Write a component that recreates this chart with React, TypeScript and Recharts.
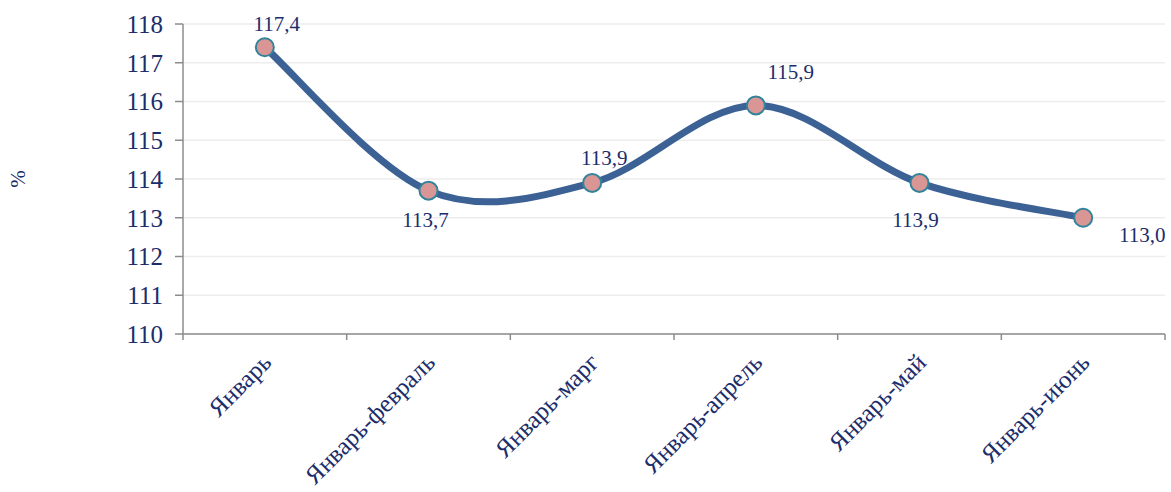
import { LineChart, Line, XAxis, YAxis, CartesianGrid, LabelList } from 'recharts';

const months = ['Январь', 'Январь-февраль', 'Январь-марг', 'Январь-апрель', 'Январь-май', 'Январь-июнь'];
const values = [117.4, 113.7, 113.9, 115.9, 113.9, 113.0];
const yTicks = [110, 111, 112, 113, 114, 115, 116, 117, 118];

const data = months.map((m, i) => ({ month: m, pos: i + 0.5, value: values[i] }));

const TEXT = '#1b2d6b';
const FONT = '"Liberation Serif", "Times New Roman", serif';
const AXIS = '#8c8c8c';

// label placement relative to each point, like the original
const LABEL_OFFSETS = [
  [12, -16], [-3, 36], [12, -18], [35, -26], [-4, 44], [59, 24],
];

// Excel-like smoothed line (Catmull-Rom through the points)
const smoothCurve = (ctx: any) => {
  let pts: [number, number][] = [];
  return {
    areaStart() {},
    areaEnd() {},
    lineStart() { pts = []; },
    point(x: number, y: number) { pts.push([+x, +y]); },
    lineEnd() {
      if (!pts.length) return;
      ctx.moveTo(pts[0][0], pts[0][1]);
      for (let i = 0; i < pts.length - 1; i++) {
        const p0 = pts[Math.max(i - 1, 0)];
        const p1 = pts[i];
        const p2 = pts[i + 1];
        const p3 = pts[Math.min(i + 2, pts.length - 1)];
        ctx.bezierCurveTo(
          p1[0] + (p2[0] - p0[0]) / 6, p1[1] + (p2[1] - p0[1]) / 6,
          p2[0] - (p3[0] - p1[0]) / 6, p2[1] - (p3[1] - p1[1]) / 6,
          p2[0], p2[1],
        );
      }
    },
  };
};

const CatTick = ({ x, y, payload }: any) => (
  <text
    x={x + 8}
    y={y + 14}
    transform={`rotate(-45, ${x + 8}, ${y + 14})`}
    textAnchor="end"
    fill={TEXT}
    fontFamily={FONT}
    fontSize={25}
  >
    {payload.value}
  </text>
);

const ValueLabel = ({ x, y, value, index }: any) => {
  const [dx, dy] = LABEL_OFFSETS[index] || [0, -14];
  return (
    <text x={x + dx} y={y + dy} textAnchor="middle" fill={TEXT} fontFamily={FONT} fontSize={21}>
      {Number(value).toFixed(1).replace('.', ',')}
    </text>
  );
};

const PercentLabel = ({ viewBox }: any) => {
  const cy = viewBox.y + viewBox.height / 2;
  return (
    <text x={25} y={cy} transform={`rotate(-90, 25, ${cy})`} textAnchor="middle" fill={TEXT} fontFamily={FONT} fontSize={21}>
      %
    </text>
  );
};

export default function App() {
  return (
    <div style={{ position: 'absolute', left: 0, top: 0, background: '#fff' }}>
      <LineChart width={1171} height={492} data={data} margin={{ top: 24, right: 6, bottom: 0, left: 0 }}>
        <CartesianGrid horizontal vertical={false} stroke="#ededed" strokeWidth={1.5} />
        <XAxis
          xAxisId="a"
          type="number"
          dataKey="pos"
          domain={[0, 6]}
          ticks={[0, 1, 2, 3, 4, 5, 6]}
          tick={() => <g />}
          height={8}
          stroke={AXIS}
          strokeWidth={1.5}
          tickSize={6}
        />
        <XAxis
          xAxisId="b"
          dataKey="month"
          scale="band"
          axisLine={false}
          tickLine={false}
          interval={0}
          height={150}
          tick={<CatTick />}
        />
        <YAxis
          domain={[110, 118]}
          ticks={yTicks}
          width={183}
          stroke={AXIS}
          strokeWidth={1.5}
          tickSize={8}
          tick={{ fill: TEXT, fontFamily: FONT, fontSize: 25, dx: -10 }}
          label={<PercentLabel />}
        />
        <Line
          xAxisId="a"
          type={smoothCurve as any}
          dataKey="value"
          stroke="#3b6195"
          strokeWidth={7}
          dot={{ r: 9, fill: '#d99694', stroke: '#31849b', strokeWidth: 2 }}
          isAnimationActive={false}
        >
          <LabelList dataKey="value" content={<ValueLabel />} />
        </Line>
      </LineChart>
    </div>
  );
}
